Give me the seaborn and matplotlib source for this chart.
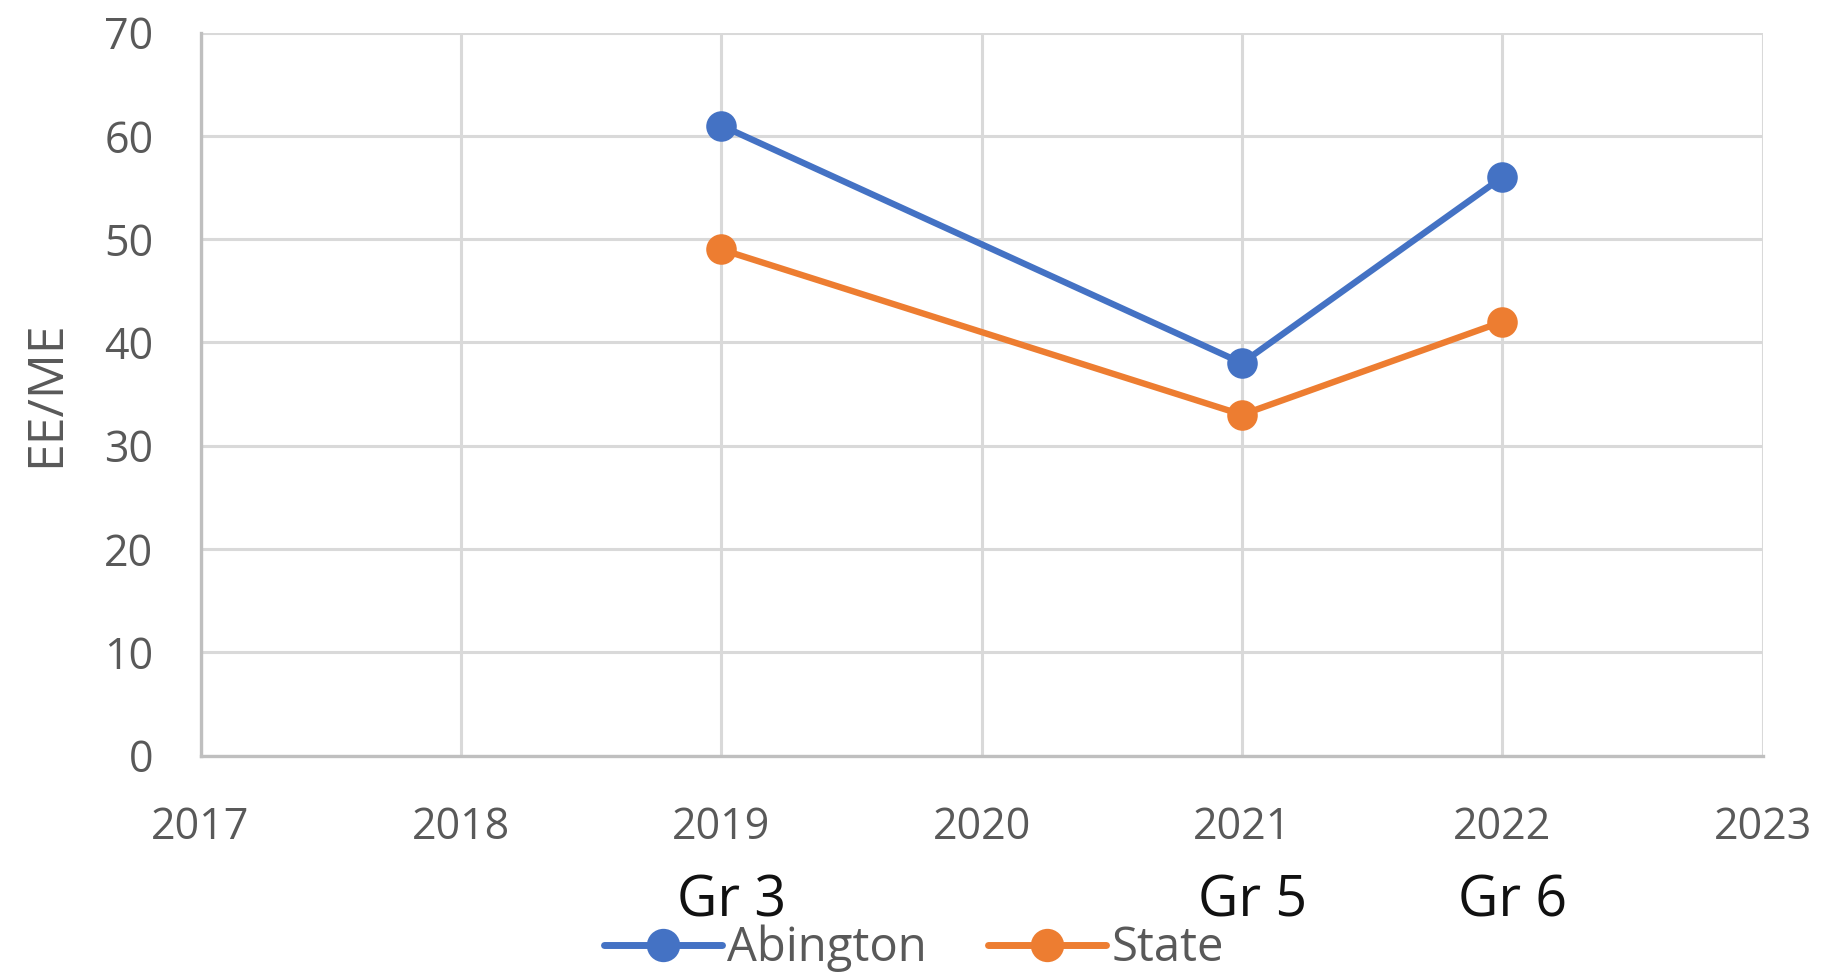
import matplotlib
matplotlib.use("Agg")
import matplotlib.pyplot as plt
import matplotlib.transforms as mtransforms
from matplotlib.lines import Line2D
import seaborn as sns
import pandas as pd

# Chart data
years = [2019, 2021, 2022]
abington = [61, 38, 56]
state = [49, 33, 42]
grade_labels = ["Gr 3", "Gr 5", "Gr 6"]
series_names = ["Abington", "State"]
x_ticks = [2017, 2018, 2019, 2020, 2021, 2022, 2023]
y_ticks = [0, 10, 20, 30, 40, 50, 60, 70]

colors = {"Abington": "#4472C4", "State": "#ED7D31"}

df = pd.DataFrame({
    "Year": years * 2,
    "EE/ME": abington + state,
    "Group": [series_names[0]] * len(years) + [series_names[1]] * len(years),
})

sns.set_theme(style="white")
plt.rcParams["font.family"] = ["Open Sans", "DejaVu Sans"]

fig = plt.figure(figsize=(18.28, 9.75), dpi=100)
ax = fig.add_axes([0.1097, 0.2251, 0.9643 - 0.1097, 0.9666 - 0.2251])

sns.lineplot(data=df, x="Year", y="EE/ME", hue="Group", palette=colors,
             marker="o", markersize=22, linewidth=4.6, markeredgewidth=0,
             legend=False, ax=ax, zorder=3)

ax.set_xlim(2017, 2023)
ax.set_ylim(0, 70)
ax.set_xticks(x_ticks)
ax.set_yticks(y_ticks)
ax.grid(True, color="#d9d9d9", linewidth=2.2, zorder=0)
ax.set_axisbelow(True)
for side in ["top", "right"]:
    ax.spines[side].set_visible(False)
for side in ["left", "bottom"]:
    ax.spines[side].set_color("#bfbfbf")
    ax.spines[side].set_linewidth(2.4)

ax.tick_params(axis="both", length=0, labelsize=31, labelcolor="#595959")
ax.tick_params(axis="x", pad=36)
ax.tick_params(axis="y", pad=34)
ax.set_xlabel("")
ax.set_ylabel("EE/ME", fontsize=36, color="#595959", labelpad=24)

# Grade labels under the year ticks
trans = mtransforms.blended_transform_factory(ax.transData, fig.transFigure)
for yr, lab in zip(years, grade_labels):
    ax.text(yr + 0.04, 0.075, lab, transform=trans, ha="center", va="center",
            fontsize=40, color="#111111")

handles = [Line2D([0], [0], color=colors[n], linewidth=5, marker="o",
                  markersize=24, markeredgewidth=0) for n in series_names]
leg = fig.legend(handles, series_names, loc="center", bbox_to_anchor=(0.5, 0.027),
                 ncol=2, frameon=False, handlelength=2.5, handletextpad=0.1,
                 columnspacing=1.3, prop={"size": 34})
for t in leg.get_texts():
    t.set_color("#595959")

fig.savefig("out.png", dpi=100, facecolor="white")
